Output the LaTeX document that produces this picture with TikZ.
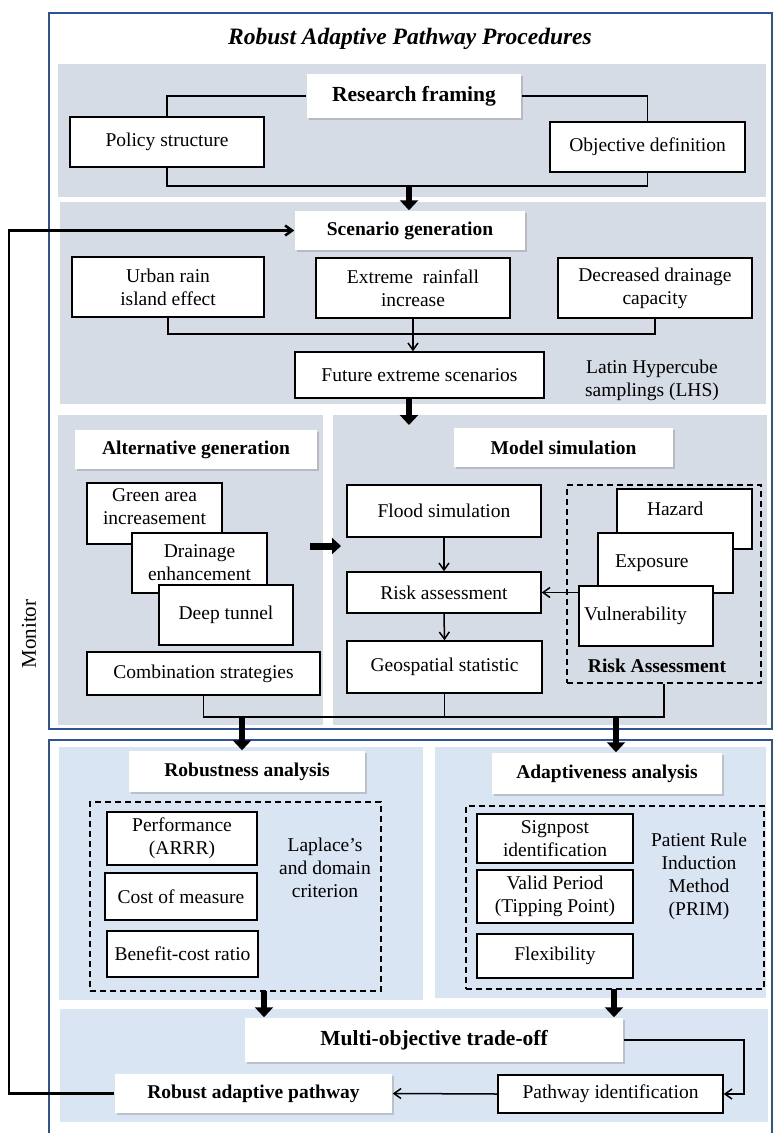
\documentclass[tikz,border=0pt]{standalone}
\usepackage{fontspec}
\setmainfont{Liberation Serif}
\usetikzlibrary{arrows.meta,shadows}
\definecolor{frameblue}{RGB}{47,84,150}
\definecolor{panelgray}{RGB}{214,220,229}
\definecolor{panelblue}{RGB}{218,229,243}

\begin{document}
\begin{tikzpicture}
[x=1pt,y=-1pt,line width=1.5pt,%
  dims/.style 2 args={minimum width=#1pt,minimum height=#2pt},
  box/.style={draw,fill=white,inner sep=0pt,align=center,font=\fontsize{19.5}{23}\selectfont},
  head/.style={fill=white,inner sep=0pt,font=\fontsize{19.5}{23}\selectfont\bfseries,
    drop shadow={shadow xshift=1.5pt,shadow yshift=-1.5pt,opacity=0.35}},
  txt/.style={inner sep=0pt,align=center,font=\fontsize{19.5}{23}\selectfont},
  dashbox/.style={draw,dash pattern=on 6pt off 4pt,line width=1.7pt,inner sep=0pt},
  fat/.style={line width=6pt,-{Triangle[length=10pt,width=18pt]}},
  conn/.style={-{Straight Barb[length=7pt,width=10pt]}}]
\useasboundingbox (0,0) rectangle (774,1133);
\draw[frameblue,line width=1.8pt] (49,13) rectangle (772,729);
\draw[frameblue,line width=1.8pt] (49,1140) |- (772,740) -- (772,1140);
\fill[panelgray] (58,64) rectangle (766,197);
\fill[panelgray] (60,202) rectangle (766,404);
\fill[panelgray] (58,415) rectangle (323,725);
\fill[panelgray] (333,415) rectangle (767,725);
\fill[panelblue] (59,747) rectangle (423,1000);
\fill[panelblue] (435,747) rectangle (766,998);
\fill[panelblue] (60,1009) rectangle (768,1122);

\node[txt,font=\fontsize{23.5}{26}\selectfont\bfseries\itshape] (title) at (410,39) {Robust Adaptive Pathway Procedures};

\node[head,dims={214}{44},font=\fontsize{21.5}{24}\selectfont\bfseries] (rf) at (414,96) {Research framing};
\node[box,dims={194}{50}] (policy) at (167,142) {Policy structure};
\node[box,dims={195}{50}] (objective) at (647.5,147) {Objective definition};
\coordinate (j1) at (409,186);
\draw (rf.west) -| (policy.north);
\draw (rf.east) -| (objective.north);
\draw (policy.south) |- (j1) -| (objective.south);

\node[head,dims={230}{39}] (sg) at (410,230.5) {Scenario generation};
\draw[fat] (j1) -- (j1 |- sg.north);
\node[box,dims={192}{60}] (urban) at (168,287) {Urban rain\\island effect};
\node[box,dims={194}{60}] (extreme) at (413,288) {Extreme~ rainfall\\increase};
\node[box,dims={194}{60}] (decreased) at (655,288) {Decreased drainage\\capacity};
\node[box,dims={249}{46}] (future) at (419.5,375) {Future extreme scenarios};
\node[txt] (lhs) at (652,380) {Latin Hypercube\\samplings (LHS)};
\coordinate (j2) at (411,334);
\draw (urban.south) |- (j2) -| (decreased.south);
\draw[conn] (extreme.south) -- (extreme.south |- future.north);
\coordinate (j3) at (409,425);
\draw[fat] (j3 |- future.south) -- (j3);

\node[head,dims={242}{39}] (ag) at (196,449.5) {Alternative generation};
\node[box,dims={135}{61},text depth=13pt] (green) at (154.5,513.5) {Green area\\increasement};
\node[box,dims={135}{60}] (drainage) at (199.5,563) {Drainage\\enhancement};
\node[box,dims={134}{60}] (deep) at (226,615) {Deep tunnel};
\node[box,dims={233}{43}] (combo) at (203.5,673.5) {Combination strategies};
\coordinate (a1) at (310,546);
\coordinate (a2) at (341,546);
\draw[fat,line width=7pt,-{Triangle[length=9pt,width=16pt]}] (a1) -- (a2);

\node[head,dims={219}{39}] (ms) at (563.5,447.5) {Model simulation};
\node[box,dims={194}{52}] (flood) at (444,511) {Flood simulation};
\node[box,dims={194}{41}] (riskas) at (444,592.5) {Risk assessment};
\node[box,dims={195}{52}] (geo) at (444.5,667) {Geospatial statistic};
\draw[conn] (flood.south) -- (riskas.north);
\draw[conn] (riskas.south) -- (geo.north);
\node[dashbox,dims={194}{198}] (radash) at (664,584) {};
\node[box,dims={135}{60},text width=75pt,align=left,text depth=20pt] (hazard) at (684.5,519) {Hazard};
\node[box,dims={135}{60},text width=101pt,align=left] (exposure) at (665.5,563) {Exposure};
\node[box,dims={134}{60},text width=124pt,align=left] (vuln) at (646,616) {Vulnerability};
\node[txt,font=\fontsize{19.5}{23}\selectfont\bfseries] (ratitle) at (657,666) {Risk Assessment};
\draw[conn] (riskas.east -| vuln.west) -- (riskas.east);
\coordinate (j4) at (242,717);
\coordinate (j5) at (616,717);
\draw (combo.south) |- (j4) -| (radash.south);
\draw (geo.south) -- (geo.south |- j4);

\node[head,dims={236}{41}] (ra) at (247,771.5) {Robustness analysis};
\draw[fat] (j4) -- (j4 |- ra.north);
\node[dashbox,dims={291}{189}] (rdash) at (235.5,896.5) {};
\node[box,dims={150}{53}] (perf) at (182,838.5) {Performance\\(ARRR)};
\node[box,dims={152}{47}] (cost) at (181,896.5) {Cost of measure};
\node[box,dims={151}{46}] (bcr) at (182.5,954) {Benefit-cost ratio};
\node[txt] (laplace) at (325,868) {Laplace’s\\and domain\\criterion};

\node[head,dims={230}{41}] (aa) at (607,773.5) {Adaptiveness analysis};
\draw[fat] (j5) -- (j5 |- aa.north);
\node[dashbox,dims={298}{183}] (adash) at (615,897.5) {};
\node[box,dims={156}{49}] (signpost) at (555,838.5) {Signpost\\identification};
\node[box,dims={156}{53}] (valid) at (555,896.5) {Valid Period\\(Tipping Point)};
\node[box,dims={156}{44}] (flex) at (555,956) {Flexibility};
\node[txt] (prim) at (699,876) {Patient Rule\\Induction\\Method\\(PRIM)};

\node[head,dims={378}{44},font=\fontsize{21.5}{24}\selectfont\bfseries] (mo) at (434,1040) {Multi-objective trade-off};
\coordinate (k1) at (264,991);
\coordinate (k2) at (614,989);
\draw[fat] (k1) -- (k1 |- mo.north);
\draw[fat] (k2) -- (k2 |- mo.north);
\node[head,dims={277}{39}] (rap) at (253.5,1093.5) {Robust adaptive pathway};
\node[box,dims={225}{38}] (pid) at (610.5,1094) {Pathway identification};
\coordinate (c5) at (744,1094);
\draw[conn] (mo.east) -| (c5) -- (pid.east);
\draw[conn] (pid.west) -- (rap.east);
\coordinate (mon) at (9,660);
\draw[conn,line width=2.5pt] (rap.west) -| (mon) |- (sg.west);
\node[txt,rotate=90,font=\fontsize{21}{24}\selectfont] (monitor) at (29,634) {Monitor};
\end{tikzpicture}
\end{document}
